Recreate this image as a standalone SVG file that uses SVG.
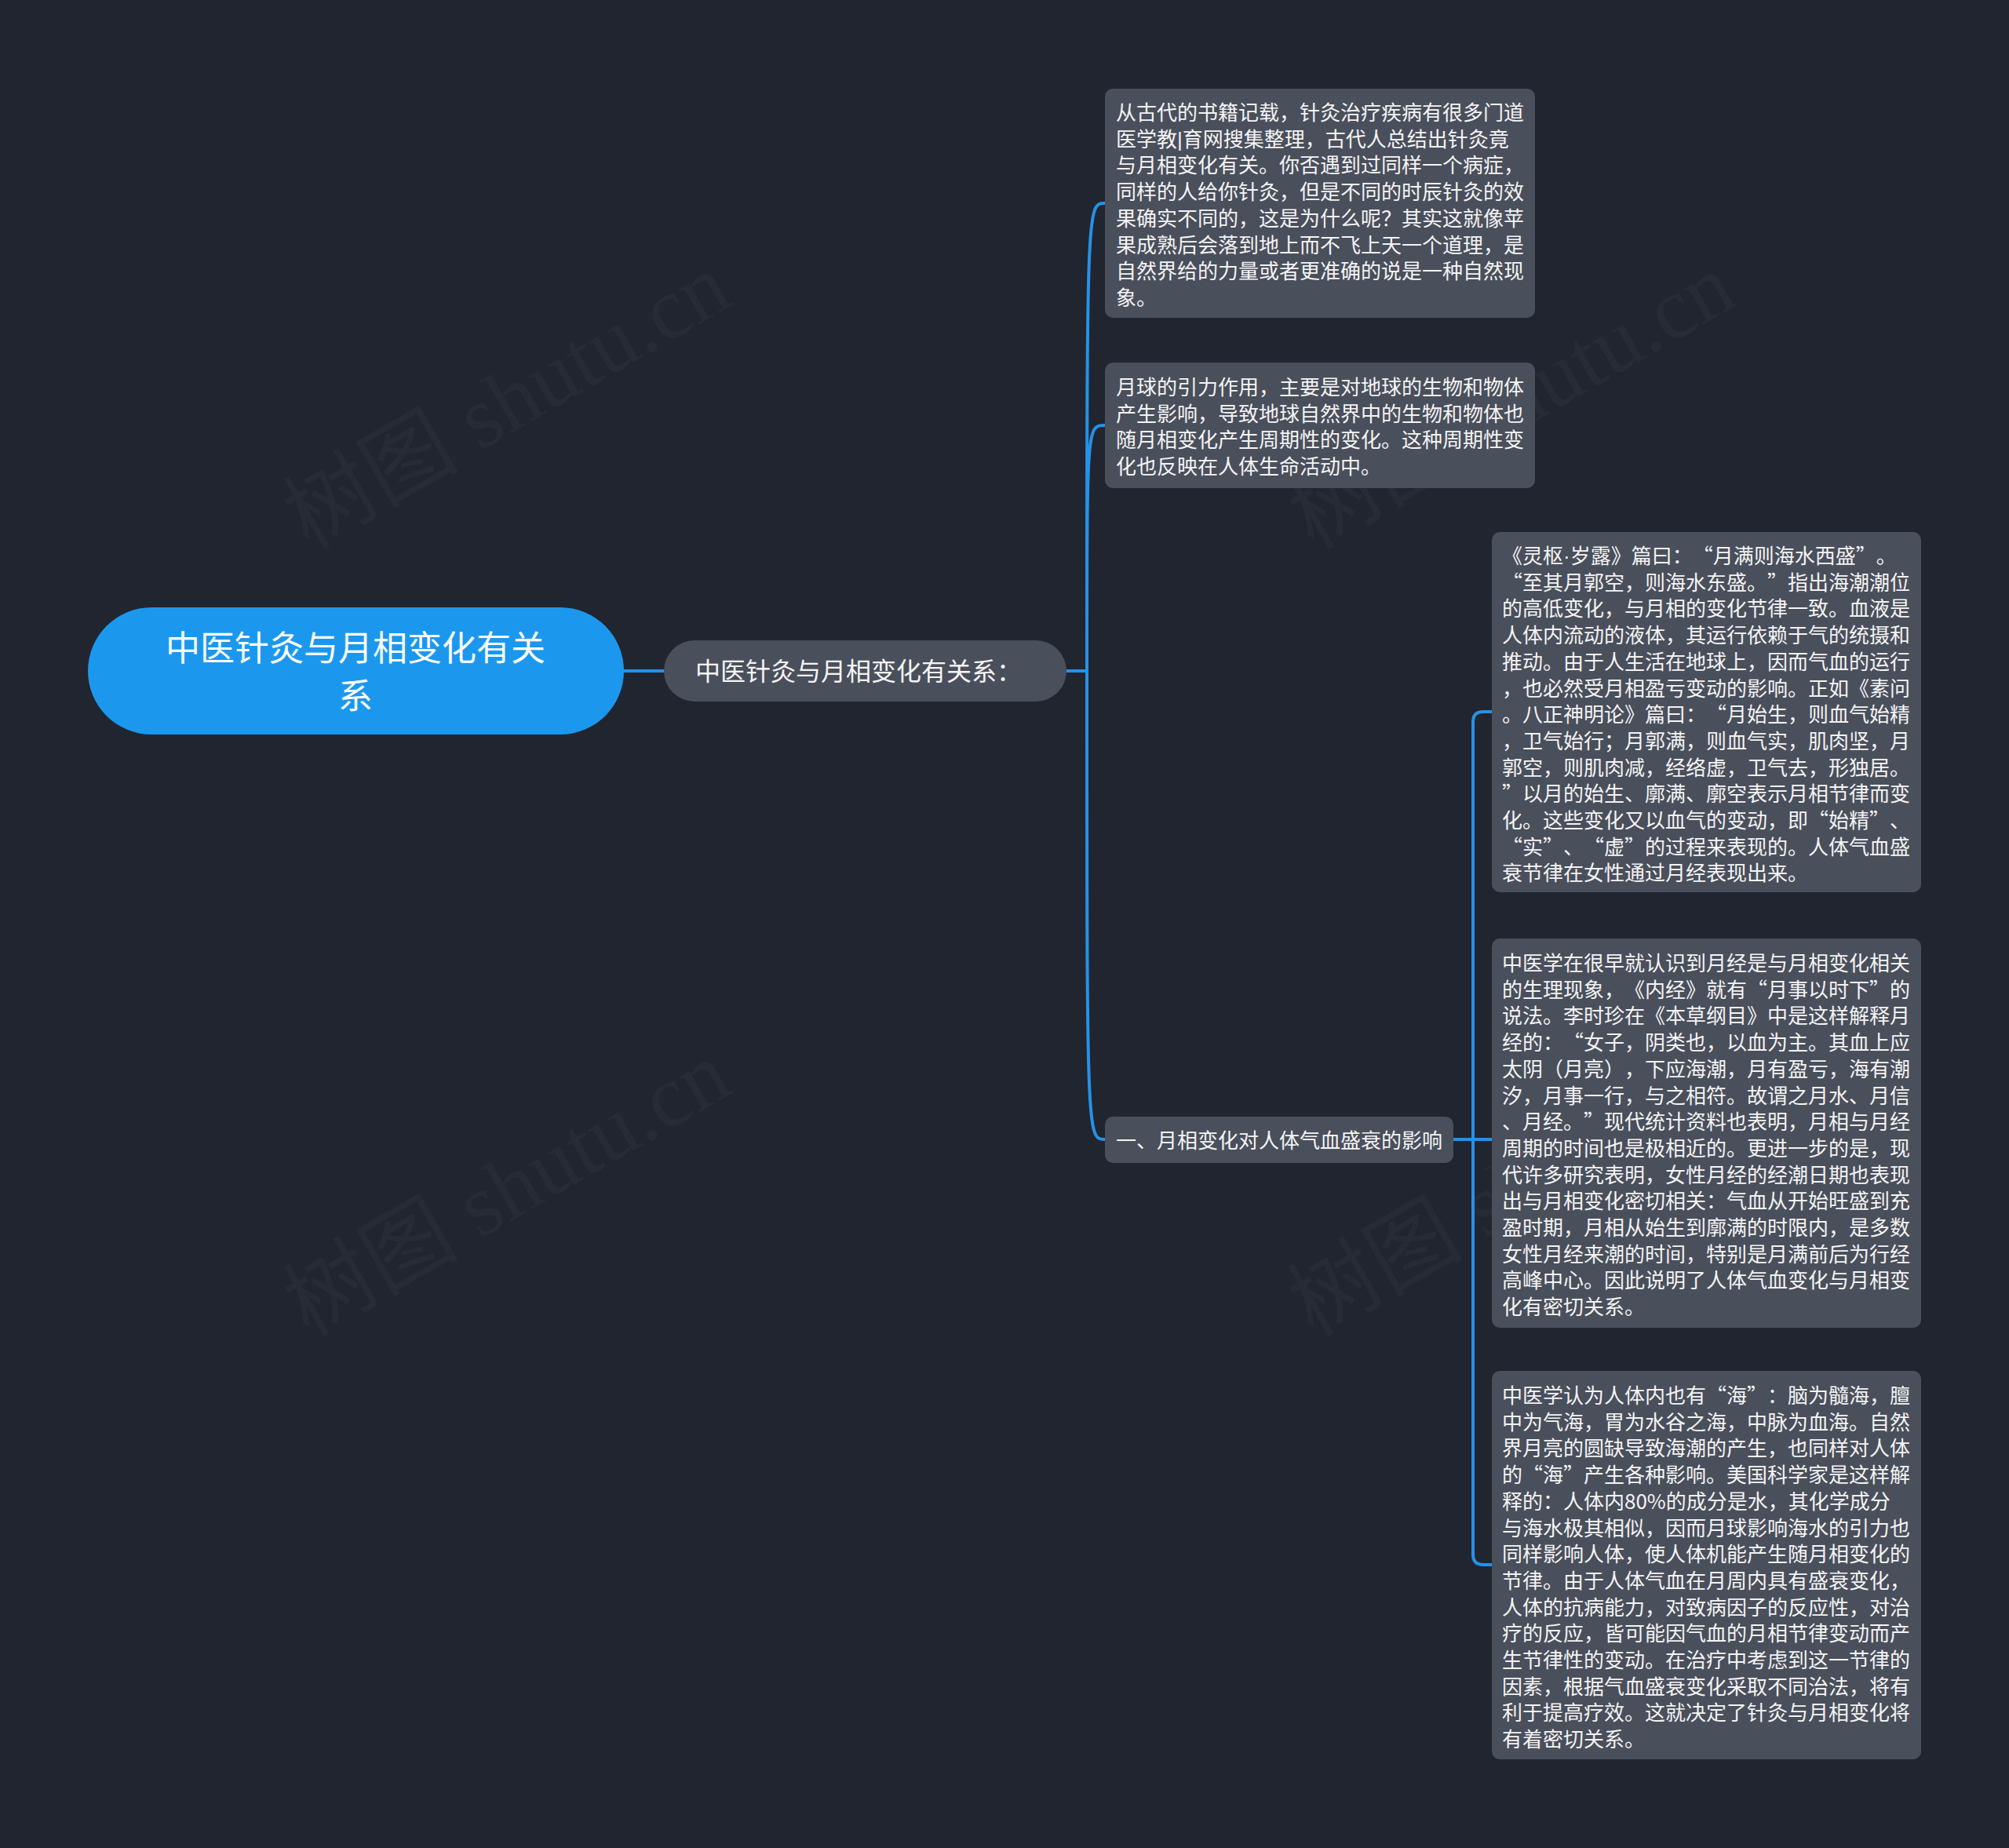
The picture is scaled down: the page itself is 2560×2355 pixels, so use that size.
<svg xmlns="http://www.w3.org/2000/svg" width="2560" height="2355" viewBox="0 0 2560 2355" lang="zh-CN" xml:lang="zh-CN">
<style>
.bg{fill:#21252f}
.wm{font-family:"Liberation Serif","Noto Sans CJK SC",serif;font-size:112px;fill:#ffffff;fill-opacity:0.03}
.root{fill:#1b98ee}
.box{fill:#4a4f5c}
.conn{fill:none;stroke:#2592e6;stroke-width:4;stroke-linecap:round}
.t{font-family:"Noto Sans CJK SC","Liberation Sans",sans-serif;fill:#f4f4f4;text-spacing-trim:space-all}
.t26{font-size:26px}
.t32{font-size:32px}
.t44{font-size:44px;fill:#ffffff}
.lat{font-family:"Liberation Sans",sans-serif}
</style>
<rect class="bg" x="0" y="0" width="2560" height="2355"/>
<g id="watermarks">
<text class="wm" transform="translate(646 511) rotate(-30)" text-anchor="middle" dominant-baseline="central">树图 shutu.cn</text>
<text class="wm" transform="translate(1926 511) rotate(-30)" text-anchor="middle" dominant-baseline="central">树图 shutu.cn</text>
<text class="wm" transform="translate(646 1515) rotate(-30)" text-anchor="middle" dominant-baseline="central">树图 shutu.cn</text>
<text class="wm" transform="translate(1926 1515) rotate(-30)" text-anchor="middle" dominant-baseline="central">树图 shutu.cn</text>
</g>
<g id="connectors">
<path class="conn" d="M795 855 L846 855"/>
<path class="conn" d="M1359 855 L1385 855"/>
<path class="conn" d="M1385 855 C1385 259 1385 259 1408 259"/>
<path class="conn" d="M1385 855 C1385 542 1385 542 1408 542"/>
<path class="conn" d="M1385 855 C1385 1452 1385 1452 1408 1452"/>
<path class="conn" d="M1852 1452 L1877 1452"/>
<path class="conn" d="M1877 1452 L1877 920 Q1877 907 1890 907 L1901 907"/>
<path class="conn" d="M1877 1452 L1901 1452"/>
<path class="conn" d="M1877 1452 L1877 1981 Q1877 1994 1890 1994 L1901 1994"/>
</g>
<g id="root">
<rect class="root" x="112" y="774" width="683" height="162" rx="81"/>
<text class="t t44" text-anchor="middle"><tspan x="453" y="842">中医针灸与月相变化有关</tspan><tspan x="453" y="903">系</tspan></text>
</g>
<g id="sub">
<rect class="box" x="846" y="816" width="513" height="78" rx="39"/>
<text class="t t32" x="886" y="867">中医针灸与月相变化有关系：</text>
</g>
<g id="node1">
<rect class="box" x="1408" y="113" width="548" height="292" rx="10"/>
<text class="t t26"><tspan x="1422" y="153">从古代的书籍记载，针灸治疗疾病有很多门道</tspan><tspan x="1422" dy="33.7">医学教<tspan class="lat">|</tspan>育网搜集整理，古代人总结出针灸竟</tspan><tspan x="1422" dy="33.7">与月相变化有关。你否遇到过同样一个病症，</tspan><tspan x="1422" dy="33.7">同样的人给你针灸，但是不同的时辰针灸的效</tspan><tspan x="1422" dy="33.7">果确实不同的，这是为什么呢？其实这就像苹</tspan><tspan x="1422" dy="33.7">果成熟后会落到地上而不飞上天一个道理，是</tspan><tspan x="1422" dy="33.7">自然界给的力量或者更准确的说是一种自然现</tspan><tspan x="1422" dy="33.7">象。</tspan></text>
</g>
<g id="node2">
<rect class="box" x="1408" y="462" width="548" height="160" rx="10"/>
<text class="t t26"><tspan x="1422" y="503">月球的引力作用，主要是对地球的生物和物体</tspan><tspan x="1422" dy="33.7">产生影响，导致地球自然界中的生物和物体也</tspan><tspan x="1422" dy="33.7">随月相变化产生周期性的变化。这种周期性变</tspan><tspan x="1422" dy="33.7">化也反映在人体生命活动中。</tspan></text>
</g>
<g id="node3">
<rect class="box" x="1408" y="1423" width="444" height="59" rx="10"/>
<text class="t t26" x="1422" y="1463">一、月相变化对人体气血盛衰的影响</text>
</g>
<g id="node4">
<rect class="box" x="1901" y="678" width="547" height="459" rx="10"/>
<text class="t t26"><tspan x="1914" y="718">《灵枢<tspan class="lat">·</tspan>岁露》篇曰：“月满则海水西盛”。</tspan><tspan x="1914" dy="33.7">“至其月郭空，则海水东盛。”指出海潮潮位</tspan><tspan x="1914" dy="33.7">的高低变化，与月相的变化节律一致。血液是</tspan><tspan x="1914" dy="33.7">人体内流动的液体，其运行依赖于气的统摄和</tspan><tspan x="1914" dy="33.7">推动。由于人生活在地球上，因而气血的运行</tspan><tspan x="1914" dy="33.7">，也必然受月相盈亏变动的影响。正如《素问</tspan><tspan x="1914" dy="33.7">。八正神明论》篇曰：“月始生，则血气始精</tspan><tspan x="1914" dy="33.7">，卫气始行；月郭满，则血气实，肌肉坚，月</tspan><tspan x="1914" dy="33.7">郭空，则肌肉减，经络虚，卫气去，形独居。</tspan><tspan x="1914" dy="33.7">”以月的始生、廓满、廓空表示月相节律而变</tspan><tspan x="1914" dy="33.7">化。这些变化又以血气的变动，即“始精”、</tspan><tspan x="1914" dy="33.7">“实”、“虚”的过程来表现的。人体气血盛</tspan><tspan x="1914" dy="33.7">衰节律在女性通过月经表现出来。</tspan></text>
</g>
<g id="node5">
<rect class="box" x="1901" y="1196" width="547" height="496" rx="10"/>
<text class="t t26"><tspan x="1914" y="1237">中医学在很早就认识到月经是与月相变化相关</tspan><tspan x="1914" dy="33.7">的生理现象，《内经》就有“月事以时下”的</tspan><tspan x="1914" dy="33.7">说法。李时珍在《本草纲目》中是这样解释月</tspan><tspan x="1914" dy="33.7">经的：“女子，阴类也，以血为主。其血上应</tspan><tspan x="1914" dy="33.7">太阴（月亮），下应海潮，月有盈亏，海有潮</tspan><tspan x="1914" dy="33.7">汐，月事一行，与之相符。故谓之月水、月信</tspan><tspan x="1914" dy="33.7">、月经。”现代统计资料也表明，月相与月经</tspan><tspan x="1914" dy="33.7">周期的时间也是极相近的。更进一步的是，现</tspan><tspan x="1914" dy="33.7">代许多研究表明，女性月经的经潮日期也表现</tspan><tspan x="1914" dy="33.7">出与月相变化密切相关：气血从开始旺盛到充</tspan><tspan x="1914" dy="33.7">盈时期，月相从始生到廓满的时限内，是多数</tspan><tspan x="1914" dy="33.7">女性月经来潮的时间，特别是月满前后为行经</tspan><tspan x="1914" dy="33.7">高峰中心。因此说明了人体气血变化与月相变</tspan><tspan x="1914" dy="33.7">化有密切关系。</tspan></text>
</g>
<g id="node6">
<rect class="box" x="1901" y="1747" width="547" height="495" rx="10"/>
<text class="t t26"><tspan x="1914" y="1788">中医学认为人体内也有“海”：脑为髓海，膻</tspan><tspan x="1914" dy="33.7">中为气海，胃为水谷之海，中脉为血海。自然</tspan><tspan x="1914" dy="33.7">界月亮的圆缺导致海潮的产生，也同样对人体</tspan><tspan x="1914" dy="33.7">的“海”产生各种影响。美国科学家是这样解</tspan><tspan x="1914" dy="33.7">释的：人体内80%的成分是水，其化学成分</tspan><tspan x="1914" dy="33.7">与海水极其相似，因而月球影响海水的引力也</tspan><tspan x="1914" dy="33.7">同样影响人体，使人体机能产生随月相变化的</tspan><tspan x="1914" dy="33.7">节律。由于人体气血在月周内具有盛衰变化，</tspan><tspan x="1914" dy="33.7">人体的抗病能力，对致病因子的反应性，对治</tspan><tspan x="1914" dy="33.7">疗的反应，皆可能因气血的月相节律变动而产</tspan><tspan x="1914" dy="33.7">生节律性的变动。在治疗中考虑到这一节律的</tspan><tspan x="1914" dy="33.7">因素，根据气血盛衰变化采取不同治法，将有</tspan><tspan x="1914" dy="33.7">利于提高疗效。这就决定了针灸与月相变化将</tspan><tspan x="1914" dy="33.7">有着密切关系。</tspan></text>
</g>
</svg>
